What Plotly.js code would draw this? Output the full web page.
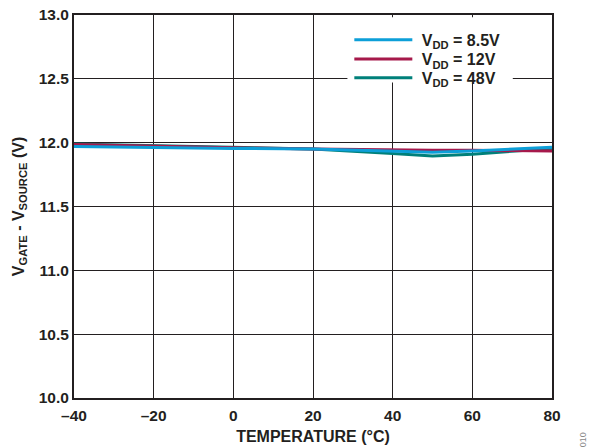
<!DOCTYPE html>
<html><head><meta charset="utf-8">
<script src="https://cdn.plot.ly/plotly-3.0.1.min.js"></script>
<style>html,body{margin:0;padding:0;background:#fff}#chart{width:589px;height:448px}</style>
</head><body><div id="chart"></div>
<script>
const temperature = [-40, -20, 0, 20, 40, 50, 60, 80];
const vdd85 = [11.97, 11.96, 11.955, 11.95, 11.93, 11.925, 11.935, 11.965];
const vdd12 = [11.985, 11.97, 11.96, 11.95, 11.94, 11.94, 11.94, 11.935];
const vdd48 = [11.99, 11.975, 11.96, 11.95, 11.915, 11.895, 11.91, 11.955];
const seriesNames = ['V<sub>DD</sub> = 8.5V', 'V<sub>DD</sub> = 12V', 'V<sub>DD</sub> = 48V'];
const xTickVals = [-40, -20, 0, 20, 40, 60, 80];
const xTickText = ['–40', '–20', '0', '20', '40', '60', '80'];
const yTickVals = [10.0, 10.5, 11.0, 11.5, 12.0, 12.5, 13.0];
const yTickText = ['10.0', '10.5', '11.0', '11.5', '12.0', '12.5', '13.0'];

const colors = ['#0D9FD8', '#A6194B', '#00807A'];
const font = {family: 'Liberation Sans, Arial, sans-serif', color: '#231F20'};
const legendIds = ['legend', 'legend2', 'legend3'];
const legendY = [0.935, 0.885, 0.836];

const series = [vdd85, vdd12, vdd48];
// draw order: 48V bottom, 12V, 8.5V on top
const traces = [2, 1, 0].map(i => ({
  x: temperature, y: series[i], type: 'scatter', mode: 'lines',
  name: '\u00a0' + seriesNames[i],
  line: {color: colors[i], width: 3},
  legend: legendIds[i]
}));

const legendBase = (y) => ({
  x: 0.576, y: y, xanchor: 'left', yanchor: 'middle',
  bgcolor: 'rgba(0,0,0,0)', borderwidth: 0,
  font: Object.assign({size: 16, weight: 'bold'}, font),
  itemwidth: 58
});

const layout = {
  width: 589, height: 448,
  margin: {l: 74, r: 37, t: 15, b: 50},
  paper_bgcolor: '#fff', plot_bgcolor: '#fff',
  font: Object.assign({size: 14}, font),
  showlegend: true,
  legend: legendBase(legendY[0]),
  legend2: legendBase(legendY[1]),
  legend3: legendBase(legendY[2]),
  shapes: [{
    type: 'rect', xref: 'paper', yref: 'paper', layer: 'above',
    x0: 0.572, x1: 0.918, y0: 0.824, y1: 0.994,
    fillcolor: '#fff', line: {width: 0}
  }],
  xaxis: {
    range: [-40, 80], tickvals: xTickVals, ticktext: xTickText,
    showgrid: true, gridcolor: '#231F20', gridwidth: 1,
    showline: true, linecolor: '#231F20', linewidth: 2, mirror: true,
    zeroline: false, ticks: '', ticklabelstandoff: 2,
    tickfont: Object.assign({size: 15.5, weight: 'bold'}, font),
    title: {text: 'TEMPERATURE (°C)', font: Object.assign({size: 16, weight: 'bold'}, font), standoff: 8}
  },
  yaxis: {
    range: [10.0, 13.0], tickvals: yTickVals, ticktext: yTickText,
    showgrid: true, gridcolor: '#231F20', gridwidth: 1,
    showline: true, linecolor: '#231F20', linewidth: 2, mirror: true,
    zeroline: false, ticks: '',
    tickfont: Object.assign({size: 15.5, weight: 'bold'}, font),
    title: {text: 'V<sub>GATE</sub> - V<sub>SOURCE</sub> (V)', font: Object.assign({size: 16, weight: 'bold'}, font), standoff: 10}
  },
  annotations: [{
    text: '010', xref: 'paper', yref: 'paper', x: 1.065, y: -0.11,
    xanchor: 'center', yanchor: 'middle',
    showarrow: false, textangle: -90, font: Object.assign({size: 9}, font, {color: '#888'})
  }]
};

Plotly.newPlot('chart', traces, layout, {displayModeBar: false, staticPlot: true});
</script></body></html>
